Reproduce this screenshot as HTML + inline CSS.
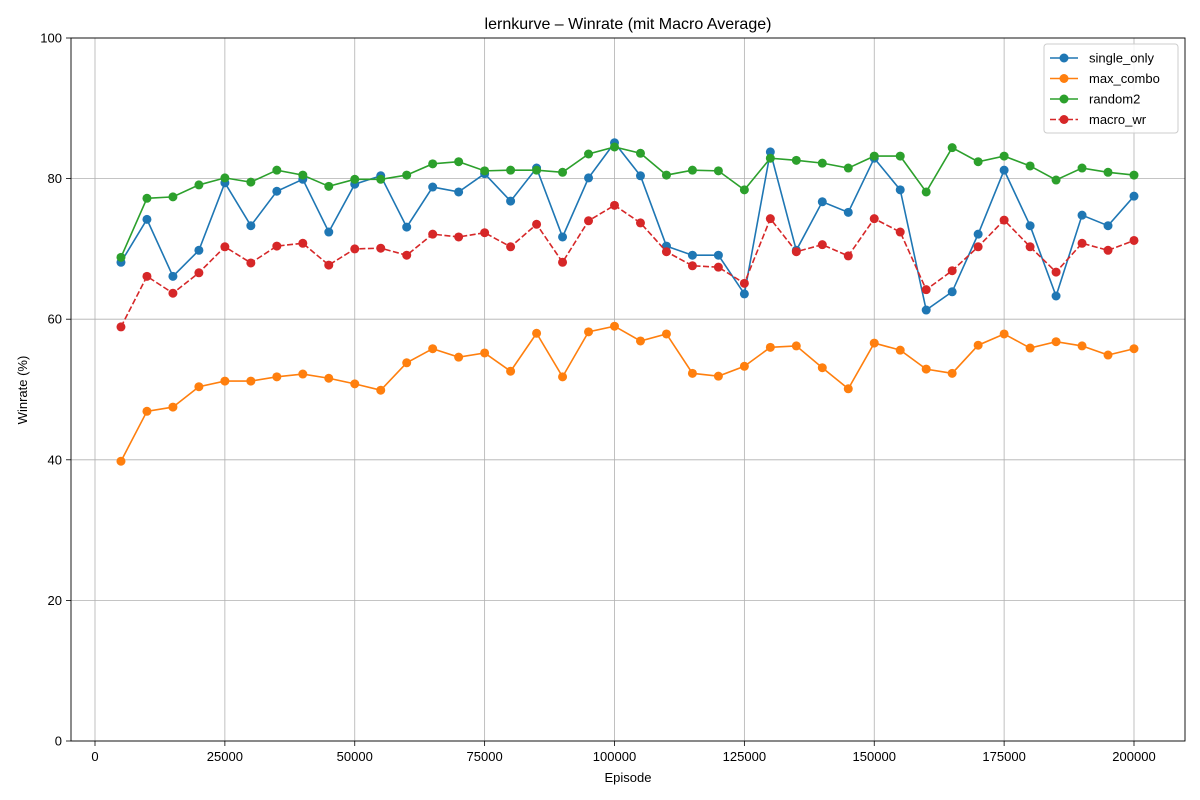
<!DOCTYPE html>
<html><head><meta charset="utf-8"><style>
body{margin:0;background:#fff;font-family:"Liberation Sans","DejaVu Sans",sans-serif}
svg{display:block}
</style></head><body>
<svg id="chart" width="1200" height="800" xmlns="http://www.w3.org/2000/svg"></svg>
<script>
const episodes=[];for(let e=5000;e<=200000;e+=5000)episodes.push(e);
const singleOnly=[68.1,74.2,66.1,69.8,79.4,73.3,78.2,79.9,72.4,79.2,80.4,73.1,78.8,78.1,80.7,76.8,81.5,71.7,80.1,85.1,80.4,70.4,69.1,69.1,63.6,83.8,69.8,76.7,75.2,82.9,78.4,61.3,63.9,72.1,81.2,73.3,63.3,74.8,73.3,77.5];
const maxCombo=[39.8,46.9,47.5,50.4,51.2,51.2,51.8,52.2,51.6,50.8,49.9,53.8,55.8,54.6,55.2,52.6,58.0,51.8,58.2,59.0,56.9,57.9,52.3,51.9,53.3,56.0,56.2,53.1,50.1,56.6,55.6,52.9,52.3,56.3,57.9,55.9,56.8,56.2,54.9,55.8];
const random2=[68.8,77.2,77.4,79.1,80.1,79.5,81.2,80.5,78.9,79.9,79.9,80.5,82.1,82.4,81.1,81.2,81.2,80.9,83.5,84.5,83.6,80.5,81.2,81.1,78.4,82.9,82.6,82.2,81.5,83.2,83.2,78.1,84.4,82.4,83.2,81.8,79.8,81.5,80.9,80.5];
const macroWr=[58.9,66.1,63.7,66.6,70.3,68.0,70.4,70.8,67.7,70.0,70.1,69.1,72.1,71.7,72.3,70.3,73.5,68.1,74.0,76.2,73.7,69.6,67.6,67.4,65.1,74.3,69.6,70.6,69.0,74.3,72.4,64.2,66.9,70.3,74.1,70.3,66.7,70.8,69.8,71.2];
const xTicks=[0,25000,50000,75000,100000,125000,150000,175000,200000];
const yTicks=[0,20,40,60,80,100];
const seriesNames=["single_only","max_combo","random2","macro_wr"];
const seriesColors=["#1f77b4","#ff7f0e","#2ca02c","#d62728"];
const seriesData=[singleOnly,maxCombo,random2,macroWr];

const L=71,R=1185,T=38,B=741;
const xs=v=>95+v*(1134-95)/200000;
const ys=v=>B-v*(B-T)/100;
const svg=document.getElementById('chart');
const NS="http://www.w3.org/2000/svg";
function mk(tag,attrs,parent){const e=document.createElementNS(NS,tag);for(const k in attrs)e.setAttribute(k,attrs[k]);(parent||svg).appendChild(e);return e;}

const grid=mk('g',{});


xTicks.forEach(t=>{
  mk('line',{x1:xs(t),x2:xs(t),y1:T,y2:B,stroke:'#b0b0b0','stroke-width':0.8},grid);
  mk('line',{x1:xs(t),x2:xs(t),y1:B,y2:B+5,stroke:'#000','stroke-width':0.8});
  const tx=mk('text',{x:xs(t),y:B+20,'text-anchor':'middle','font-size':13});
  tx.textContent=t;
  
  
});
yTicks.forEach(t=>{
  mk('line',{x1:L,x2:R,y1:ys(t),y2:ys(t),stroke:'#b0b0b0','stroke-width':0.8},grid);
  mk('line',{x1:L-5,x2:L,y1:ys(t),y2:ys(t),stroke:'#000','stroke-width':0.8});
  const tx=mk('text',{x:L-9,y:ys(t)+4.5,'text-anchor':'end','font-size':13});
  tx.textContent=t;
  
  
});

seriesData.forEach((d,i)=>{
  const g=mk('g',{});
  
  
  const pts=d.map((v,j)=>xs(episodes[j])+','+ys(v)).join(' ');
  const attrs={points:pts,fill:'none',stroke:seriesColors[i],'stroke-width':1.6};
  if(i===3)attrs['stroke-dasharray']='6,2.5';
  mk('polyline',attrs,g);
  d.forEach((v,j)=>{
    const c=mk('circle',{cx:xs(episodes[j]),cy:ys(v),r:4.5,fill:seriesColors[i]},g);
    
    
  });
});

const frame=mk('rect',{x:L,y:T,width:R-L,height:B-T,fill:'none',stroke:'#000','stroke-width':0.9});



const title=mk('text',{x:628,y:29,'text-anchor':'middle','font-size':16});
title.textContent='lernkurve – Winrate (mit Macro Average)';


const xl=mk('text',{x:628,y:782,'text-anchor':'middle','font-size':13});
xl.textContent='Episode';


const yl=mk('text',{x:27,y:390,'text-anchor':'middle','font-size':13,transform:'rotate(-90 27 390)'});
yl.textContent='Winrate (%)';



const lg=mk('g',{});


mk('rect',{x:1044,y:44,width:134,height:89,rx:3,fill:'#fff','fill-opacity':0.85,stroke:'#ccc'},lg);
seriesNames.forEach((n,i)=>{
  const y=58+i*20.5;
  const a={x1:1050,x2:1078,y1:y,y2:y,stroke:seriesColors[i],'stroke-width':1.6};
  if(i===3)a['stroke-dasharray']='6,2.5';
  mk('line',a,lg);
  mk('circle',{cx:1064,cy:y,r:4.5,fill:seriesColors[i]},lg);
  const t=mk('text',{x:1089,y:y+4.5,'font-size':13},lg);
  t.textContent=n;
  
  
});
</script>
</body></html>
